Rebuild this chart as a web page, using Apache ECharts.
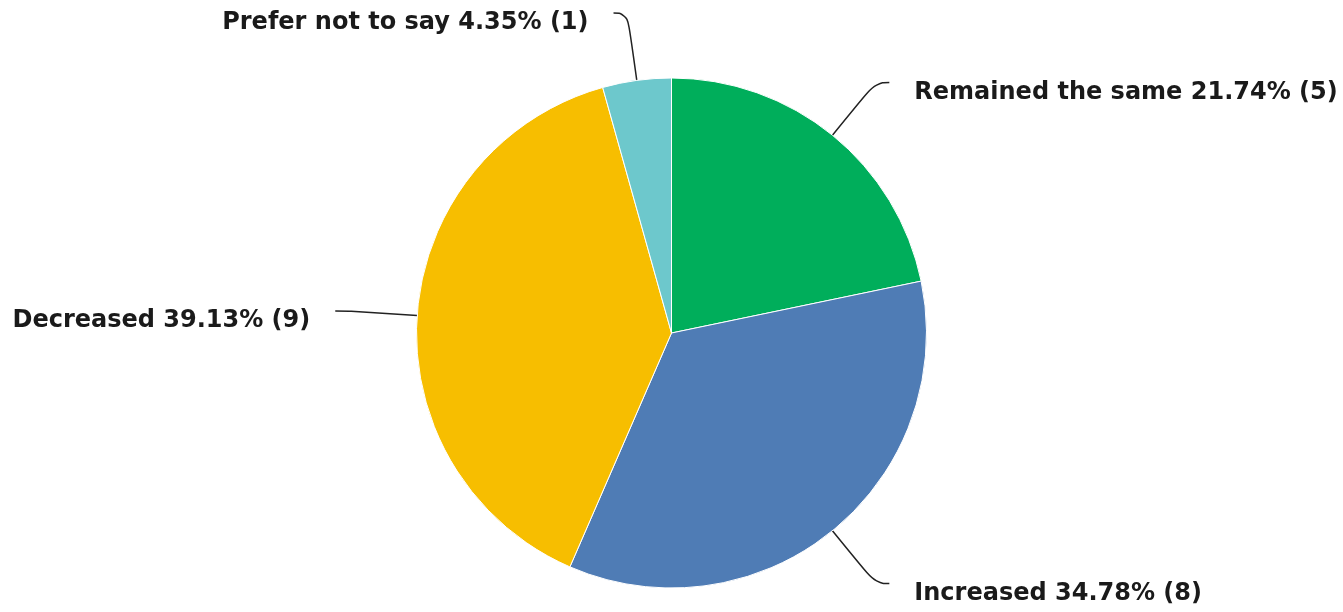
<!DOCTYPE html>
<html><head><meta charset="utf-8">
<script src="https://cdn.jsdelivr.net/npm/echarts@6/dist/echarts.min.js"></script>
<style>html,body{margin:0;padding:0;background:#fff}#c{width:1343px;height:612px}</style>
</head><body><div id="c"></div>
<script>
const categories = ["Remained the same", "Increased", "Decreased", "Prefer not to say"];
const counts = [5, 8, 9, 1];
const colors = ["#00AE5B", "#4F7CB5", "#F7BE00", "#6DC8CC"];

const chart = echarts.init(document.getElementById('c'));
chart.setOption({
  animation: false,
  series: [{
    type: 'pie',
    center: ['50%', 333],
    radius: 255,
    startAngle: 90,
    clockwise: true,
    avoidLabelOverlap: false,
    data: categories.map((n, i) => ({name: n, value: counts[i], itemStyle: {color: colors[i]}})),
    itemStyle: {borderColor: '#fff', borderWidth: 1},
    label: {
      formatter: '{b} {d}% ({c})',
      fontFamily: 'DejaVu Sans',
      fontWeight: 'bold',
      fontSize: 24,
      color: '#1a1a1a',
      distanceToLabelLine: 25
    },
    labelLayout: function () { return { dy: 10 }; },
    labelLine: {
      length: 68,
      length2: 14,
      smooth: 0.5,
      lineStyle: {color: '#222', width: 1.5}
    }
  }]
});
</script></body></html>
